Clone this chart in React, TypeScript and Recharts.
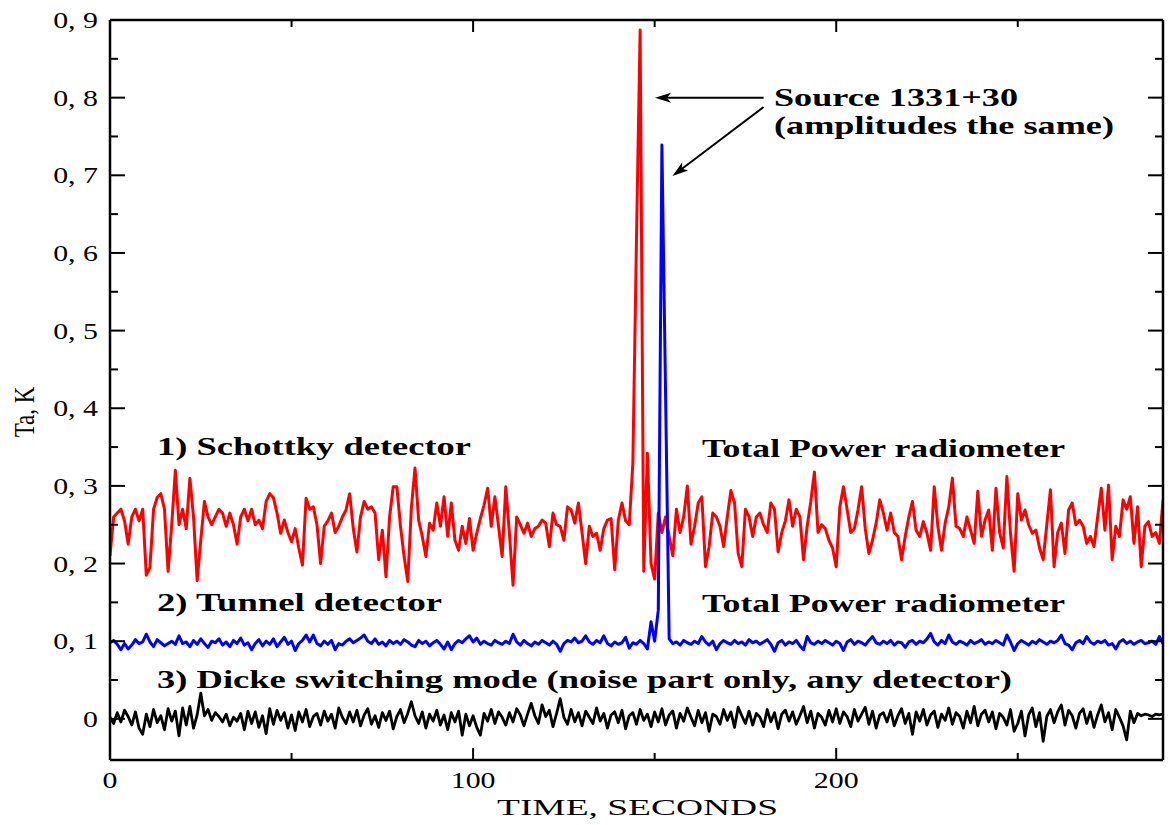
import React from 'react'
import { LineChart, Line, XAxis, YAxis, ReferenceLine } from 'recharts'

const SCHOTTKY = [
  0.21, 0.26, 0.265, 0.27, 0.255, 0.225, 0.26, 0.27, 0.255, 0.27,
  0.185, 0.195, 0.27, 0.285, 0.29, 0.27, 0.19, 0.25, 0.32, 0.25,
  0.27, 0.245, 0.31, 0.26, 0.178, 0.23, 0.28, 0.26, 0.25, 0.26,
  0.27, 0.265, 0.248, 0.265, 0.25, 0.225, 0.26, 0.27, 0.255, 0.27,
  0.25, 0.256, 0.245, 0.28, 0.29, 0.285, 0.265, 0.239, 0.256, 0.24,
  0.228, 0.245, 0.22, 0.198, 0.284, 0.27, 0.273, 0.25, 0.2, 0.248,
  0.255, 0.265, 0.24, 0.248, 0.26, 0.269, 0.29, 0.245, 0.215, 0.26,
  0.28, 0.27, 0.273, 0.265, 0.205, 0.243, 0.183, 0.26, 0.299, 0.299,
  0.248, 0.209, 0.177, 0.272, 0.323, 0.256, 0.235, 0.209, 0.252, 0.243,
  0.278, 0.248, 0.286, 0.235, 0.278, 0.23, 0.217, 0.248, 0.226, 0.258,
  0.217, 0.239, 0.258, 0.275, 0.297, 0.248, 0.286, 0.248, 0.209, 0.299,
  0.239, 0.172, 0.26, 0.25, 0.239, 0.252, 0.235, 0.245, 0.248, 0.256,
  0.252, 0.222, 0.265, 0.25, 0.248, 0.23, 0.273, 0.269, 0.252, 0.278,
  0.24, 0.2, 0.248, 0.235, 0.239, 0.217, 0.245, 0.256, 0.258, 0.192,
  0.256, 0.278, 0.255, 0.25, 0.33, 0.62, 0.887, 0.19, 0.342, 0.2,
  0.18, 0.265, 0.24, 0.26, 0.235, 0.21, 0.27, 0.24, 0.26, 0.3,
  0.225, 0.248, 0.278, 0.286, 0.196, 0.222, 0.265, 0.26, 0.248, 0.222,
  0.26, 0.294, 0.278, 0.213, 0.196, 0.27, 0.26, 0.235, 0.26, 0.265,
  0.25, 0.24, 0.278, 0.27, 0.215, 0.24, 0.255, 0.282, 0.248, 0.27,
  0.26, 0.205, 0.248, 0.28, 0.318, 0.24, 0.25, 0.245, 0.23, 0.22,
  0.196, 0.273, 0.299, 0.27, 0.24, 0.245, 0.269, 0.299, 0.245, 0.213,
  0.23, 0.252, 0.282, 0.265, 0.243, 0.265, 0.24, 0.235, 0.205, 0.235,
  0.26, 0.28, 0.243, 0.235, 0.254, 0.239, 0.217, 0.299, 0.248, 0.217,
  0.252, 0.273, 0.31, 0.248, 0.245, 0.235, 0.26, 0.243, 0.226, 0.293,
  0.235, 0.256, 0.269, 0.217, 0.297, 0.24, 0.22, 0.312, 0.239, 0.19,
  0.29, 0.256, 0.269, 0.25, 0.239, 0.243, 0.22, 0.205, 0.25, 0.295,
  0.196, 0.24, 0.252, 0.213, 0.269, 0.278, 0.25, 0.256, 0.248, 0.226,
  0.235, 0.222, 0.26, 0.297, 0.243, 0.301, 0.205, 0.248, 0.235, 0.282,
  0.27, 0.286, 0.226, 0.273, 0.196, 0.248, 0.254, 0.235, 0.24, 0.226,
  0.282,
]

const TUNNEL = [
  0.098, 0.101, 0.096, 0.089, 0.097, 0.09, 0.095, 0.102, 0.097, 0.099,
  0.109, 0.099, 0.093, 0.102, 0.098, 0.094, 0.097, 0.1, 0.096, 0.107,
  0.097, 0.099, 0.093, 0.101, 0.096, 0.103, 0.097, 0.092, 0.1, 0.098,
  0.103, 0.095, 0.099, 0.093, 0.101, 0.097, 0.104, 0.095, 0.098, 0.089,
  0.097, 0.102, 0.094, 0.1, 0.096, 0.103, 0.093, 0.099, 0.105, 0.096,
  0.1, 0.088, 0.097, 0.101, 0.108, 0.099, 0.108, 0.097, 0.094, 0.1,
  0.096, 0.101, 0.089, 0.097, 0.095, 0.1, 0.103, 0.098, 0.101, 0.104,
  0.108, 0.1, 0.097, 0.103, 0.096, 0.099, 0.094, 0.101, 0.097, 0.1,
  0.096, 0.102, 0.099, 0.095, 0.093, 0.101, 0.097, 0.1, 0.094, 0.098,
  0.101, 0.096, 0.09, 0.099, 0.089, 0.097, 0.101, 0.098, 0.103, 0.107,
  0.099, 0.104, 0.096, 0.1, 0.097, 0.095, 0.101, 0.098, 0.096, 0.1,
  0.097, 0.109, 0.099, 0.095, 0.101, 0.097, 0.094, 0.099, 0.096, 0.101,
  0.098, 0.095, 0.1, 0.096, 0.087, 0.097, 0.101, 0.099, 0.104, 0.098,
  0.1, 0.107, 0.099, 0.096, 0.101, 0.098, 0.107, 0.097, 0.094, 0.099,
  0.096, 0.098, 0.105, 0.091, 0.098, 0.096, 0.101, 0.097, 0.09, 0.125,
  0.1, 0.14, 0.739, 0.42, 0.103, 0.097, 0.099, 0.095, 0.101, 0.098,
  0.096, 0.1, 0.097, 0.106, 0.099, 0.095, 0.1, 0.089, 0.097, 0.101,
  0.098, 0.096, 0.101, 0.097, 0.099, 0.095, 0.102, 0.098, 0.1, 0.096,
  0.099, 0.102, 0.096, 0.087, 0.098, 0.101, 0.095, 0.099, 0.097, 0.101,
  0.094, 0.089, 0.106, 0.098, 0.096, 0.1, 0.097, 0.101, 0.098, 0.095,
  0.1, 0.097, 0.088, 0.099, 0.102, 0.096, 0.1, 0.098, 0.095, 0.101,
  0.106, 0.098, 0.096, 0.1, 0.097, 0.101, 0.095, 0.099, 0.098, 0.092,
  0.099, 0.101, 0.096, 0.1, 0.098, 0.103, 0.11, 0.099, 0.095, 0.101,
  0.097, 0.108, 0.099, 0.096, 0.1, 0.098, 0.095, 0.101, 0.097, 0.099,
  0.102, 0.096, 0.099, 0.097, 0.101, 0.098, 0.095, 0.108, 0.099, 0.088,
  0.097, 0.101, 0.098, 0.095, 0.1, 0.097, 0.102, 0.099, 0.096, 0.1,
  0.098, 0.101, 0.108, 0.097, 0.095, 0.089, 0.098, 0.101, 0.097, 0.106,
  0.099, 0.096, 0.1, 0.098, 0.101, 0.095, 0.097, 0.09, 0.099, 0.102,
  0.097, 0.1, 0.096, 0.099, 0.101, 0.097, 0.098, 0.1, 0.096, 0.106,
  0.097,
]

const DICKE = [
  0.002, -0.006, 0.008, -0.004, 0.011, 0.003, -0.008, 0.009, -0.012, -0.02,
  0.006, -0.01, 0.012, -0.005, 0.004, -0.014, 0.013, -0.003, 0.01, -0.022,
  0.014, -0.008, 0.016, -0.012, 0.005, 0.033, 0.004, 0.012, -0.002, 0.008,
  0.003, -0.004, 0.006, -0.009, 0.002, -0.003, 0.007, -0.014, 0.01, -0.006,
  0.009, -0.011, 0.004, -0.019, 0.013, -0.007, 0.011, -0.002, 0.008, -0.012,
  0.005, -0.015, 0.009, -0.004, 0.012, -0.01, 0.003, 0.007, -0.008, 0.01,
  -0.003, 0.006, -0.012, 0.014, 0.002, -0.006, 0.009, -0.004, 0.011, -0.009,
  0.005, 0.013, -0.007, 0.004, -0.011, 0.008, -0.002, 0.01, -0.013, 0.003,
  0.012, -0.005, 0.007, 0.022, 0.004, -0.006, 0.009, -0.012, 0.006, -0.003,
  0.011, -0.008, 0.005, -0.014, 0.008, -0.004, 0.01, -0.021, 0.006, -0.009,
  0.004, -0.011, -0.021, 0.007, -0.003, 0.012, -0.006, 0.009, 0.002, -0.008,
  0.008, -0.004, 0.013, 0.005, -0.009, 0.006, 0.02, 0.004, -0.006, 0.018,
  0.003, 0.011, -0.01, 0.007, 0.026, 0.002, -0.007, 0.012, -0.004, 0.008,
  -0.009, 0.01, 0.002, -0.006, 0.014, -0.003, 0.007, -0.012, 0.005, 0.009,
  -0.005, 0.011, -0.013, 0.004, 0.008, -0.007, 0.012, -0.002, 0.006, -0.01,
  0.009, -0.004, 0.013, -0.008, 0.005, 0.01, -0.012, 0.007, -0.003, 0.014,
  0.002, -0.009, 0.011, -0.005, 0.008, -0.016, 0.006, 0.003, -0.007, 0.012,
  -0.002, 0.009, -0.011, 0.015, 0.004, -0.006, 0.01, -0.008, 0.007, 0.002,
  -0.01, 0.012, -0.004, 0.008, -0.013, 0.006, 0.011, -0.003, 0.009, -0.007,
  0.004, 0.016, -0.005, 0.01, -0.012, 0.007, 0.002, -0.008, 0.011, -0.004,
  0.013, -0.006, 0.009, 0.003, -0.01, 0.012, -0.003, 0.006, 0.015, -0.007,
  0.01, -0.012, 0.005, 0.008, -0.004, 0.011, -0.009, 0.004, 0.013, -0.006,
  0.007, -0.02, 0.009, -0.003, 0.012, -0.008, 0.005, 0.01, -0.011, 0.006,
  -0.002, 0.014, -0.007, 0.008, 0.003, -0.012, 0.01, -0.005, 0.016, -0.009,
  0.006, 0.011, -0.004, 0.009, -0.013, 0.007, 0.002, -0.008, 0.012, -0.016,
  -0.006, 0.01, -0.022, 0.005, 0.014, -0.01, 0.008, -0.029, 0.003, 0.012,
  -0.005, 0.009, 0.018, -0.008, 0.011, 0.004, -0.012, 0.007, 0.013, -0.006,
  0.009, -0.011, 0.005, 0.018, -0.004, 0.008, -0.014, 0.012, 0.002, -0.009,
  -0.027, 0.01, -0.005, 0.007, 0.004, 0.006, 0.005, 0.003, 0.006, 0.005,
  0.006,
]

const TIME = SCHOTTKY.map((_, i) => i)

const X_TICKS = [0, 50, 100, 150, 200, 250]
const X_LABELED = [0, 100, 200]
const Y_TICKS = [0, 0.05, 0.1, 0.15, 0.2, 0.25, 0.3, 0.35, 0.4, 0.45, 0.5, 0.55, 0.6, 0.65, 0.7, 0.75, 0.8, 0.85, 0.9]

// arrows pointing at the two source peaks (seconds, Ta)
const ARROWS = [
  [{ x: 180, y: 0.8 }, { x: 150.1, y: 0.8 }],
  [{ x: 180, y: 0.788 }, { x: 154.9, y: 0.699 }],
]

const rows = TIME.map((t, i) => ({ t, red: SCHOTTKY[i], blue: TUNNEL[i], black: DICKE[i] }))

const SERIF = '"Liberation Serif", "Times New Roman", serif'
const STRETCH = 1.3

const isMajorY = (v: number) => Math.round(v * 100) % 10 === 0
const isMajorX = (v: number) => v % 100 === 0
const fmtY = (v: number) => (v === 0 ? '0' : `0, ${Math.round(v * 10)}`)

function TickLabel({ x, y, anchor, children }: any) {
  return (
    <text
      transform={`translate(${x},${y}) scale(${STRETCH},1)`}
      textAnchor={anchor}
      fontFamily={SERIF}
      fontSize={23}
      fill="#000"
    >
      {children}
    </text>
  )
}

function BottomTick({ x, y, payload }: any) {
  const v = payload.value
  const len = isMajorX(v) ? 12 : 7
  return (
    <g>
      {v !== 0 && <line x1={x} y1={y} x2={x} y2={y - len} stroke="#000" strokeWidth={2} />}
      {X_LABELED.includes(v) && (
        <TickLabel x={x} y={y + 28} anchor="middle">
          {v}
        </TickLabel>
      )}
    </g>
  )
}

function TopTick({ x, y, payload }: any) {
  const v = payload.value
  if (v === 0) return <g />
  const len = isMajorX(v) ? 12 : 7
  return <line x1={x} y1={y} x2={x} y2={y + len} stroke="#000" strokeWidth={2} />
}

function LeftTick({ x, y, payload }: any) {
  const v = payload.value
  const major = isMajorY(v)
  const len = major ? 15 : 8
  return (
    <g>
      <line x1={x} y1={y} x2={x + len} y2={y} stroke="#000" strokeWidth={2} />
      {major && (
        <TickLabel x={x - 12} y={y + 8} anchor="end">
          {fmtY(v)}
        </TickLabel>
      )}
    </g>
  )
}

function RightTick({ x, y, payload }: any) {
  const len = isMajorY(payload.value) ? 15 : 8
  return <line x1={x} y1={y} x2={x - len} y2={y} stroke="#000" strokeWidth={2} />
}

function Arrow(props: any) {
  const { x1, y1, x2, y2 } = props
  const dx = x2 - x1
  const dy = y2 - y1
  const d = Math.hypot(dx, dy) || 1
  const ux = dx / d
  const uy = dy / d
  const hl = 16
  const hw = 5
  const bx = x2 - ux * hl
  const by = y2 - uy * hl
  const pts = `${x2},${y2} ${bx - uy * hw},${by + ux * hw} ${bx + ux * 4},${by + uy * 4} ${bx + uy * hw},${by - ux * hw}`
  return (
    <g>
      <line x1={x1} y1={y1} x2={bx + ux * 4} y2={by + uy * 4} stroke="#000" strokeWidth={2} />
      <polygon points={pts} fill="#000" />
    </g>
  )
}

const NOTES = [
  { text: '1) Schottky detector', x: 157, y: 455, w: 314 },
  { text: 'Total Power radiometer', x: 702, y: 457, w: 363 },
  { text: '2) Tunnel detector', x: 157, y: 611, w: 285 },
  { text: 'Total Power radiometer', x: 702, y: 612, w: 363 },
  { text: '3) Dicke switching mode (noise part only, any detector)', x: 157, y: 688, w: 855 },
  { text: 'Source 1331+30', x: 774, y: 106, w: 244 },
  { text: '(amplitudes the same)', x: 774, y: 134, w: 340 },
]

const axisLine = { stroke: '#000', strokeWidth: 2.5 }

export default function App() {
  return (
    <div style={{ position: 'absolute', left: 0, top: 0, width: 1170, height: 825, background: '#fff' }}>
      <LineChart width={1170} height={825} data={rows} margin={{ top: 0, right: 0, bottom: 0, left: 0 }}>
        <XAxis
          xAxisId="b"
          dataKey="t"
          type="number"
          domain={[0, 290]}
          ticks={X_TICKS}
          interval={0}
          height={65}
          tickSize={0}
          tickMargin={0}
          tickLine={false}
          axisLine={axisLine}
          tick={BottomTick}
          allowDataOverflow
        />
        <XAxis
          xAxisId="t"
          orientation="top"
          dataKey="t"
          type="number"
          domain={[0, 290]}
          ticks={X_TICKS}
          interval={0}
          height={20}
          tickSize={0}
          tickMargin={0}
          tickLine={false}
          axisLine={axisLine}
          tick={TopTick}
          allowDataOverflow
        />
        <YAxis
          yAxisId="l"
          type="number"
          domain={[-0.053, 0.9]}
          ticks={Y_TICKS}
          interval={0}
          width={110}
          tickSize={0}
          tickMargin={0}
          tickLine={false}
          axisLine={axisLine}
          tick={LeftTick}
          allowDataOverflow
        />
        <YAxis
          yAxisId="r"
          orientation="right"
          type="number"
          domain={[-0.053, 0.9]}
          ticks={Y_TICKS}
          interval={0}
          width={7}
          tickSize={0}
          tickMargin={0}
          tickLine={false}
          axisLine={axisLine}
          tick={RightTick}
          allowDataOverflow
        />
        <Line xAxisId="b" yAxisId="l" dataKey="red" stroke="#ff0000" strokeWidth={3} dot={false} isAnimationActive={false} strokeLinejoin="round" />
        <Line xAxisId="b" yAxisId="l" dataKey="blue" stroke="#0000ff" strokeWidth={3} dot={false} isAnimationActive={false} strokeLinejoin="round" />
        <Line xAxisId="b" yAxisId="l" dataKey="black" stroke="#000000" strokeWidth={2.8} dot={false} isAnimationActive={false} strokeLinejoin="round" />
        {ARROWS.map((seg, i) => (
          <ReferenceLine key={i} xAxisId="b" yAxisId="l" segment={seg} shape={Arrow} ifOverflow="visible" />
        ))}
      </LineChart>
      <svg width={1170} height={825} style={{ position: 'absolute', left: 0, top: 0, pointerEvents: 'none' }}>
        {NOTES.map((n, i) => (
          <text
            key={i}
            x={n.x}
            y={n.y}
            textLength={n.w}
            lengthAdjust="spacingAndGlyphs"
            fontFamily={SERIF}
            fontWeight="bold"
            fontSize={26}
            fill="#000"
          >
            {n.text}
          </text>
        ))}
        <text x={497} y={815} textLength={281} lengthAdjust="spacingAndGlyphs" fontFamily={SERIF} fontSize={23} fill="#000">
          TIME, SECONDS
        </text>
        <text
          transform={`translate(34,412) scale(${STRETCH},1) rotate(-90)`}
          textAnchor="middle"
          fontFamily={SERIF}
          fontSize={23}
          fill="#000"
        >
          Ta, K
        </text>
      </svg>
    </div>
  )
}
